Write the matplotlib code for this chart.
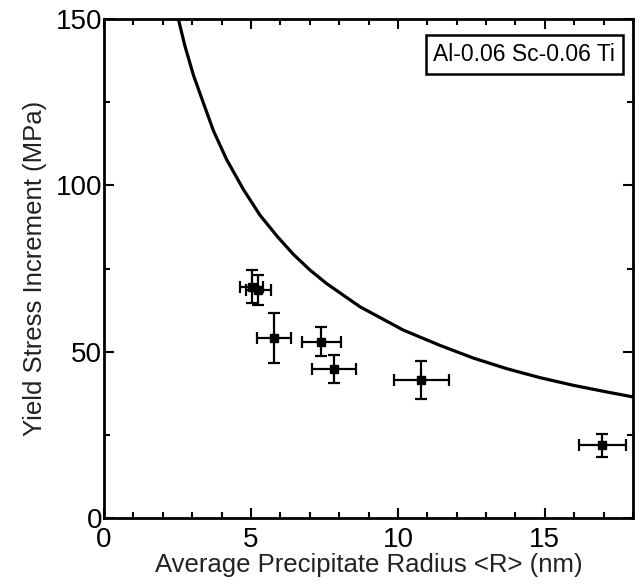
import matplotlib
matplotlib.use("Agg")
import matplotlib.pyplot as plt
from matplotlib.ticker import MultipleLocator

plt.rcParams['font.family'] = ['Liberation Sans', 'DejaVu Sans']

# Experimental data
radius = [5.02, 5.25, 5.78, 7.40, 7.83, 10.80, 16.96]
radius_err = [0.40, 0.42, 0.58, 0.67, 0.75, 0.93, 0.80]
stress = [69.5, 68.5, 54.0, 53.0, 44.8, 41.5, 21.8]
stress_err = [5.0, 4.5, 7.5, 4.4, 4.1, 5.8, 3.4]

# Model curve
curve_r = [2.53, 2.75, 3.04, 3.38, 3.72, 4.17, 4.74, 5.31, 5.9, 6.44, 7.0,
           7.57, 8.71, 10.18, 11.43, 12.56, 13.70, 14.83, 15.96, 17.10, 18.0]
curve_s = [150.0, 142.0, 133.2, 124.8, 116.5, 107.8, 98.8, 91.0, 84.6, 79.3, 74.6,
           70.5, 63.5, 56.5, 51.9, 48.1, 44.9, 42.2, 39.9, 37.9, 36.4]

label_text = "Al-0.06 Sc-0.06 Ti"
xlabel = "Average Precipitate Radius <R> (nm)"
ylabel = "Yield Stress Increment (MPa)"

fig = plt.figure(figsize=(6.37, 5.84), dpi=100)
ax = fig.add_axes([104/637, 66/584, (633-104)/637, (518-19)/584])

ax.plot(curve_r, curve_s, color='black', lw=2.3, solid_capstyle='round',
        solid_joinstyle='round')
ax.errorbar(radius, stress, xerr=radius_err, yerr=stress_err, fmt='s', color='black',
            ms=6, capsize=4, elinewidth=1.6, capthick=1.6)

ax.set_xlim(0, 18)
ax.set_ylim(0, 150)
ax.xaxis.set_major_locator(MultipleLocator(5))
ax.xaxis.set_minor_locator(MultipleLocator(1))
ax.yaxis.set_major_locator(MultipleLocator(50))
ax.yaxis.set_minor_locator(MultipleLocator(25))
ax.tick_params(which='both', direction='in', top=True, right=True, width=1.5,
               labelsize=20, colors='black')
ax.tick_params(axis='x', which='major', pad=6.5)
ax.tick_params(axis='y', which='major', pad=1.5)
ax.tick_params(which='major', length=7)
ax.tick_params(which='minor', length=4)
for s in ax.spines.values():
    s.set_linewidth(2)

ax.set_xlabel(xlabel, fontsize=18.5, labelpad=0, color='#222222')
ax.set_ylabel(ylabel, fontsize=18.5, labelpad=6, color='#222222')

ax.text(0.966, 0.952, label_text, transform=ax.transAxes, ha='right', va='top',
        fontsize=16.5, bbox=dict(boxstyle='square,pad=0.33', fc='white', ec='black', lw=1.8))

fig.savefig("out.png", dpi=100)
